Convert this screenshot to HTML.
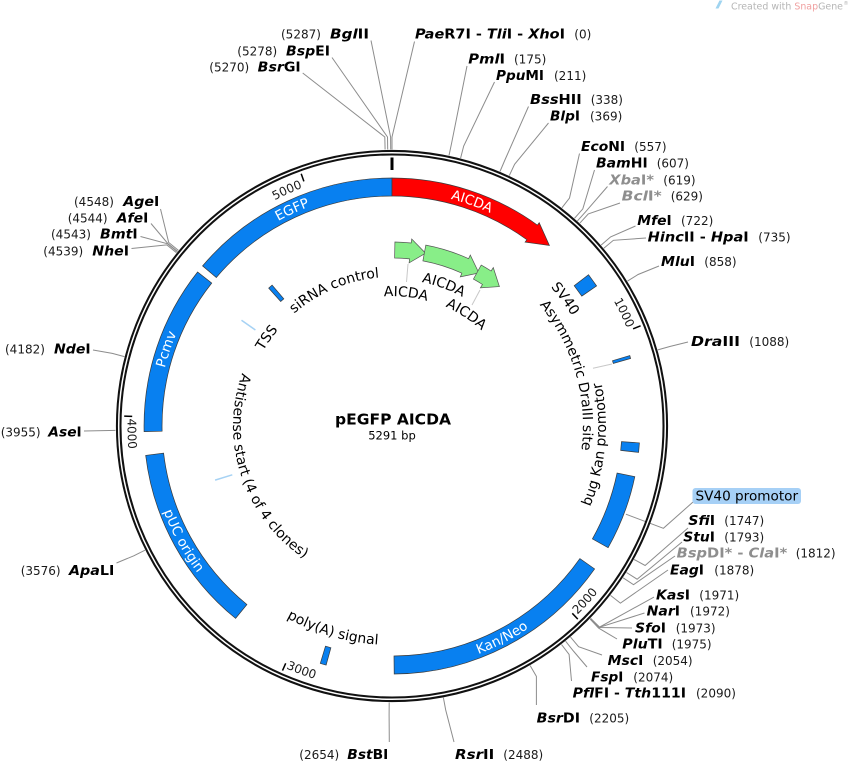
<!DOCTYPE html>
<html><head><meta charset="utf-8"><style>
html,body{margin:0;padding:0;background:#fff;}
svg{display:block;}
.n{font-family:"DejaVu Sans","Liberation Sans",sans-serif;font-size:12px;fill:#1a1a1a;}
.e{font-family:"DejaVu Sans","Liberation Sans",sans-serif;font-size:13.5px;font-weight:bold;fill:#000;}
.g{fill:#8e8e8e;}
.l{font-family:"DejaVu Sans","Liberation Sans",sans-serif;font-size:14px;fill:#000;}
.w{font-family:"DejaVu Sans","Liberation Sans",sans-serif;font-size:13.5px;fill:#fff;}
.c{fill:none;stroke:#8c8c8c;stroke-width:1;}
.f{fill:#0880f0;stroke:#3a3a3a;stroke-width:0.7;}
.ar{fill:#88ee88;stroke:#555;stroke-width:0.7;}
</style></head><body>
<svg width="848" height="763" viewBox="0 0 848 763" xmlns="http://www.w3.org/2000/svg">
<defs>
<path id="pEGFP" d="M158.5,404.7 A234.5,234.5 0 0 1 527.2,234.4"/>
<path id="pAICDA" d="M211.3,276.5 A234.5,234.5 0 0 1 626.5,424.4"/>
<path id="pPcmv" d="M245.1,608.8 A234.5,234.5 0 0 1 387.1,191.6"/>
<path id="pPUC" d="M208.5,265.5 A243.8,243.8 0 0 0 429.3,666.9"/>
<path id="pKan" d="M227.0,605.5 A243.8,243.8 0 0 0 633.8,394.6"/>
<path id="pSi" d="M243.2,433.8 A149,149 0 0 1 501.0,324.4"/>
<path id="pTSS" d="M269.6,511.0 A149,149 0 0 1 431.1,282.2"/>
<path id="pAnti" d="M293.0,301.6 A159,159 0 0 0 387.8,584.9"/>
<path id="pPoly" d="M173.5,440.5 A219,219 0 0 0 568.7,555.3"/>
<path id="pSV" d="M332.8,223.5 A211,211 0 0 1 567.5,543.1"/>
<path id="pAsym" d="M405.0,235.4 A191,191 0 0 1 504.5,580.3"/>
<path id="pBug" d="M446.7,632.9 A214,214 0 0 0 483.1,232.4"/>
<path id="pA1" d="M275.2,369.0 A130,130 0 0 1 518.1,394.6"/>
<path id="pA2" d="M279.6,331.3 A147,147 0 0 1 539.0,426.3"/>
<path id="pA3" d="M314.3,320.6 A131,131 0 0 1 519.3,456.8"/>
<path id="n5" d="M141.4,381.8 A254.5,254.5 0 0 1 302.5,187.8"/>
<path id="n1" d="M436.2,175.4 A254.5,254.5 0 0 1 627.0,328.2"/>
<path id="n4" d="M127.6,418.6 A264.5,264.5 0 0 0 301.5,674.5"/>
<path id="n3" d="M286.1,668.4 A264.5,264.5 0 0 0 562.0,628.6"/>
<path id="n2" d="M577.4,614.7 A264.5,264.5 0 0 0 652.5,380.1"/>
</defs>

<!-- watermark -->
<polygon points="715.5,8.5 719.5,0.5 722.5,0.5 718.5,8.5" fill="#9fd4f0"/>
<text x="731" y="9.5" font-family="DejaVu Sans, sans-serif" font-size="10" fill="#b5b5b5" textLength="112" lengthAdjust="spacingAndGlyphs">Created with <tspan fill="#f0a0a0">Snap</tspan>Gene</text>
<text x="843.5" y="5" font-family="DejaVu Sans, sans-serif" font-size="5" fill="#b5b5b5">®</text>

<!-- connectors -->
<g class="c">
<polyline points="390.7,149.5 390.6,137 371,40.5"/>
<polyline points="387.7,149.5 387.5,137 332,57.5"/>
<polyline points="385.1,149.5 384.8,137 302.7,73"/>
<polyline points="392,149.5 392,137 414.5,41.5"/>
<polyline points="449.0,155.5 451.6,143.2 467,66"/>
<polyline points="460.6,158.1 463.7,146.0 494.5,82"/>
<polyline points="500.0,171.5 504.9,160.0 528.5,106.5"/>
<polyline points="509.3,175.6 514.6,164.3 548.5,123"/>
<polyline points="561.9,207.8 569.5,198.0 579.5,153.5"/>
<polyline points="574.5,218.3 582.8,208.9 594.5,170"/>
<polyline points="577.4,220.9 585.8,211.6 607.5,186.5"/>
<polyline points="579.9,223.1 588.3,213.9 620,203"/>
<polyline points="601.1,245.1 610.6,236.9 635.5,226"/>
<polyline points="603.8,248.3 613.4,240.3 646,238"/>
<polyline points="627.5,281.1 638.1,274.5 659,266"/>
<polyline points="657.8,349.9 669.8,346.5 688,342"/>
<polyline points="625.9,514.2 663.4,528.3 693,502"/>
<polyline points="634.1,559.5 645.1,565.5 688,528"/>
<polyline points="626.5,572.5 637.1,579.2 682,542"/>
<polyline points="623.1,577.8 633.5,584.7 675,556"/>
<polyline points="610.5,595.4 620.4,603.1 668,570"/>
<polyline points="590.6,618.4 599.6,627.1 654,597"/>
<polyline points="590.7,618.5 599.3,627.3 644.5,613"/>
<polyline points="590.1,618.9 599.2,627.5 632,628"/>
<polyline points="590.3,619.3 598.6,628.1 617,639"/>
<polyline points="570.5,637.1 578.6,646.7 602,655"/>
<polyline points="565.6,641.2 573.4,651.0 587,667"/>
<polyline points="561.5,644.5 569.1,654.4 571.5,681"/>
<polyline points="530.1,665.5 536.4,676.4 536.4,705"/>
<polyline points="443.4,697.7 445.7,710 454,742"/>
<polyline points="389.2,702.5 389.1,715 389.3,742"/>
<polyline points="145.0,550.2 133.8,555.8 116.5,563"/>
<polyline points="115.5,430.4 103.0,430.6 84,431"/>
<polyline points="124.4,356.6 112.3,353.4 93,350"/>
<polyline points="176.5,252.7 166.8,244.9 131.5,248.5"/>
<polyline points="177.4,251.7 167.6,243.8 140.5,236.5"/>
<polyline points="177.6,251.5 167.9,243.6 151,223.5"/>
<polyline points="178.4,250.4 168.7,242.5 160.5,209"/>
</g>

<!-- backbone ring -->
<circle cx="392" cy="426" r="273.3" fill="none" stroke="#111" stroke-width="5.6"/>
<circle cx="392" cy="426" r="273.3" fill="none" stroke="#fff" stroke-width="1.5"/>

<!-- ticks -->
<line x1="392" y1="157.5" x2="392" y2="170" stroke="#000" stroke-width="3"/>
<g stroke="#000" stroke-width="1.5">
<line x1="640.6" y1="325.8" x2="633.1" y2="328.8"/>
<line x1="577.8" y1="619.1" x2="572.3" y2="613.3"/>
<line x1="282.5" y1="670.6" x2="285.7" y2="663.3"/>
<line x1="124.2" y1="416.1" x2="132.2" y2="416.4"/>
<line x1="301.2" y1="173.8" x2="303.9" y2="181.4"/>
</g>
<text class="n"><textPath href="#n5" startOffset="100%" text-anchor="end">5000</textPath></text>
<text class="n"><textPath href="#n1" startOffset="100%" text-anchor="end">1000</textPath></text>
<text class="n"><textPath href="#n4" startOffset="0">4000</textPath></text>
<text class="n"><textPath href="#n3" startOffset="0">3000</textPath></text>
<text class="n"><textPath href="#n2" startOffset="0">2000</textPath></text>

<!-- features -->
<path class="f" d="M202.6,265.9 A248,248 0 0 1 392,178 L392,196 A230,230 0 0 0 216.3,277.5 Z"/>
<path d="M392,178 A248,248 0 0 1 537.4,225.1 L539.2,222.7 L549.4,245.5 L525.1,242.1 L526.9,239.7 A230,230 0 0 0 392,196 Z" fill="#ff0000" stroke="#3a3a3a" stroke-width="0.7"/>
<path class="f" d="M144.1,431.6 A248,248 0 0 1 197.6,272.0 L211.7,283.1 A230,230 0 0 0 162.1,431.2 Z"/>
<path class="f" d="M235.6,618.4 A248,248 0 0 1 145.7,455.4 L163.6,453.2 A230,230 0 0 0 246.9,604.5 Z"/>
<path class="f" d="M594.6,568.9 A248,248 0 0 1 394.2,674.0 L394.0,656.0 A230,230 0 0 0 579.9,558.6 Z"/>
<path class="f" d="M634.8,476.7 A248,248 0 0 1 608.1,547.7 L592.4,538.9 A230,230 0 0 0 617.1,473.0 Z"/>
<polygon class="f" points="639.4,442.9 638.6,452.4 620.7,450.4 621.5,441.6"/>
<polygon class="f" points="588.5,274.7 596.6,285.9 581.8,296.1 574.2,285.7"/>
<polygon class="f" points="629.8,355.6 630.6,358.5 613.3,363.4 612.5,360.7"/>
<polygon class="f" points="326.1,665.1 330.9,647.7 325.5,646.2 320.3,663.4"/>
<polygon class="f" points="268.7,288.1 272.1,285.1 283.8,298.8 280.7,301.5"/>
<line x1="241.5" y1="320.2" x2="255.4" y2="330.0" stroke="#a6d2f4" stroke-width="1.5"/>
<line x1="215.1" y1="480.1" x2="232.3" y2="474.8" stroke="#a6d2f4" stroke-width="1.5"/>

<!-- green arrows -->
<path class="ar" d="M394.9,242.0 A184,184 0 0 1 411.2,243.0 L411.7,239.0 L425.6,253.2 L409.1,262.9 L409.6,258.9 A168,168 0 0 0 394.6,258.0 Z"/>
<path class="ar" d="M425.8,245.1 A184,184 0 0 1 468.6,258.7 L470.3,255.1 L478.9,273.0 L460.3,276.9 L461.9,273.2 A168,168 0 0 0 422.9,260.9 Z"/>
<path class="ar" d="M481.2,265.1 A184,184 0 0 1 491.1,271.0 L493.3,267.6 L499.4,286.6 L480.4,287.8 L482.5,284.5 A168,168 0 0 0 473.4,279.1 Z"/>
<g stroke="#c8c8c8" stroke-width="1">
<line x1="408" y1="264" x2="406.5" y2="282"/>
<line x1="480" y1="290" x2="472" y2="305"/>
<line x1="612" y1="364" x2="593" y2="368.3"/>
</g>

<!-- feature band labels -->
<text class="w"><textPath href="#pEGFP" startOffset="50%" text-anchor="middle">EGFP</textPath></text>
<text class="w"><textPath href="#pAICDA" startOffset="50%" text-anchor="middle">AICDA</textPath></text>
<text class="w"><textPath href="#pPcmv" startOffset="50%" text-anchor="middle">Pcmv</textPath></text>
<text class="w"><textPath href="#pPUC" startOffset="50%" text-anchor="middle">pUC origin</textPath></text>
<text class="w"><textPath href="#pKan" startOffset="50%" text-anchor="middle">Kan/Neo</textPath></text>

<!-- inner labels -->
<text class="l"><textPath href="#pSi" startOffset="50%" text-anchor="middle">siRNA control</textPath></text>
<text class="l"><textPath href="#pTSS" startOffset="50%" text-anchor="middle">TSS</textPath></text>
<text class="l"><textPath href="#pAnti" startOffset="50%" text-anchor="middle">Antisense start (4 of 4 clones)</textPath></text>
<text class="l"><textPath href="#pPoly" startOffset="50%" text-anchor="middle">poly(A) signal</textPath></text>
<text class="l"><textPath href="#pSV" startOffset="50%" text-anchor="middle">SV40</textPath></text>
<text class="l"><textPath href="#pAsym" startOffset="50%" text-anchor="middle">Asymmetric DraIII site</textPath></text>
<text class="l"><textPath href="#pBug" startOffset="50%" text-anchor="middle">bug Kan promotor</textPath></text>
<text class="l"><textPath href="#pA1" startOffset="50%" text-anchor="middle">AICDA</textPath></text>
<text class="l"><textPath href="#pA2" startOffset="50%" text-anchor="middle">AICDA</textPath></text>
<text class="l"><textPath href="#pA3" startOffset="50%" text-anchor="middle">AICDA</textPath></text>

<!-- center title -->
<text x="393" y="424.3" text-anchor="middle" font-family="DejaVu Sans, sans-serif" font-size="15.5" font-weight="bold" fill="#000" textLength="116" lengthAdjust="spacingAndGlyphs">pEGFP AICDA</text>
<text x="392" y="439.3" text-anchor="middle" font-family="DejaVu Sans, sans-serif" font-size="11.5" fill="#000">5291 bp</text>

<!-- SV40 promotor highlighted label -->
<rect x="692.5" y="488" width="108.5" height="16" rx="3" ry="3" fill="#a6d0f6"/>
<text x="695.5" y="500.5" font-family="DejaVu Sans, sans-serif" font-size="13.5" fill="#000" textLength="102.6" lengthAdjust="spacingAndGlyphs">SV40 promotor</text>

<!-- enzyme labels: left -->
<text class="n" x="281" y="38.5">(5287)</text>
<text class="e" x="330" y="38.5" textLength="39" lengthAdjust="spacingAndGlyphs"><tspan font-style="italic">Bgl</tspan>II</text>
<text class="n" x="237.3" y="55.5">(5278)</text>
<text class="e" x="286" y="55.5" textLength="44" lengthAdjust="spacingAndGlyphs"><tspan font-style="italic">Bsp</tspan>EI</text>
<text class="n" x="209.3" y="71.7">(5270)</text>
<text class="e" x="257.7" y="71.7" textLength="43" lengthAdjust="spacingAndGlyphs"><tspan font-style="italic">Bsr</tspan>GI</text>
<text class="n" x="74" y="206">(4548)</text>
<text class="e" x="123.3" y="206" textLength="36" lengthAdjust="spacingAndGlyphs"><tspan font-style="italic">Age</tspan>I</text>
<text class="n" x="67.7" y="222.3">(4544)</text>
<text class="e" x="116.7" y="222.3" textLength="31.6" lengthAdjust="spacingAndGlyphs"><tspan font-style="italic">Afe</tspan>I</text>
<text class="n" x="51" y="238.7">(4543)</text>
<text class="e" x="100" y="238.7" textLength="37.7" lengthAdjust="spacingAndGlyphs"><tspan font-style="italic">Bmt</tspan>I</text>
<text class="n" x="43.3" y="255.3">(4539)</text>
<text class="e" x="92.3" y="255.3" textLength="36.7" lengthAdjust="spacingAndGlyphs"><tspan font-style="italic">Nhe</tspan>I</text>
<text class="n" x="5" y="353.3">(4182)</text>
<text class="e" x="54" y="353.3" textLength="36.7" lengthAdjust="spacingAndGlyphs"><tspan font-style="italic">Nde</tspan>I</text>
<text class="n" x="0.7" y="436.7">(3955)</text>
<text class="e" x="48.3" y="436.7" textLength="33.4" lengthAdjust="spacingAndGlyphs"><tspan font-style="italic">Ase</tspan>I</text>
<text class="n" x="20.7" y="575">(3576)</text>
<text class="e" x="69" y="575" textLength="45.3" lengthAdjust="spacingAndGlyphs"><tspan font-style="italic">Apa</tspan>LI</text>
<text class="n" x="299.3" y="759">(2654)</text>
<text class="e" x="347.3" y="759" textLength="41" lengthAdjust="spacingAndGlyphs"><tspan font-style="italic">Bst</tspan>BI</text>

<!-- enzyme labels: right -->
<text class="e" x="415" y="38.5" textLength="150" lengthAdjust="spacingAndGlyphs"><tspan font-style="italic">Pae</tspan>R7I - <tspan font-style="italic">Tli</tspan>I - <tspan font-style="italic">Xho</tspan>I</text>
<text class="n" x="574.3" y="38.5">(0)</text>
<text class="e" x="468.3" y="63.3" textLength="36.7" lengthAdjust="spacingAndGlyphs"><tspan font-style="italic">Pml</tspan>I</text>
<text class="n" x="514" y="63.3">(175)</text>
<text class="e" x="496" y="80" textLength="48" lengthAdjust="spacingAndGlyphs"><tspan font-style="italic">Ppu</tspan>MI</text>
<text class="n" x="554" y="80">(211)</text>
<text class="e" x="530" y="104" textLength="51.7" lengthAdjust="spacingAndGlyphs"><tspan font-style="italic">Bss</tspan>HII</text>
<text class="n" x="590.7" y="104">(338)</text>
<text class="e" x="550" y="120.7" textLength="30" lengthAdjust="spacingAndGlyphs"><tspan font-style="italic">Blp</tspan>I</text>
<text class="n" x="590" y="120.7">(369)</text>
<text class="e" x="581" y="151" textLength="44" lengthAdjust="spacingAndGlyphs"><tspan font-style="italic">Eco</tspan>NI</text>
<text class="n" x="634.3" y="151">(557)</text>
<text class="e" x="596" y="167.7" textLength="51.7" lengthAdjust="spacingAndGlyphs"><tspan font-style="italic">Bam</tspan>HI</text>
<text class="n" x="656.7" y="167.7">(607)</text>
<text class="e g" x="609.3" y="184.3" textLength="44.7" lengthAdjust="spacingAndGlyphs"><tspan font-style="italic">Xba</tspan>I*</text>
<text class="n" x="663.3" y="184.3">(619)</text>
<text class="e g" x="621.7" y="200.7" textLength="40" lengthAdjust="spacingAndGlyphs"><tspan font-style="italic">Bcl</tspan>I*</text>
<text class="n" x="670.7" y="200.7">(629)</text>
<text class="e" x="637.3" y="225" textLength="34.4" lengthAdjust="spacingAndGlyphs"><tspan font-style="italic">Mfe</tspan>I</text>
<text class="n" x="681" y="225">(722)</text>
<text class="e" x="647.7" y="241.7" textLength="101" lengthAdjust="spacingAndGlyphs"><tspan font-style="italic">Hinc</tspan>II - <tspan font-style="italic">Hpa</tspan>I</text>
<text class="n" x="758.3" y="241.7">(735)</text>
<text class="e" x="661" y="266" textLength="34" lengthAdjust="spacingAndGlyphs"><tspan font-style="italic">Mlu</tspan>I</text>
<text class="n" x="704.3" y="266">(858)</text>
<text class="e" x="691" y="346" textLength="49" lengthAdjust="spacingAndGlyphs"><tspan font-style="italic">Dra</tspan>III</text>
<text class="n" x="749.3" y="346">(1088)</text>
<text class="e" x="688.3" y="525" textLength="26.7" lengthAdjust="spacingAndGlyphs"><tspan font-style="italic">Sfi</tspan>I</text>
<text class="n" x="724.3" y="525">(1747)</text>
<text class="e" x="683.3" y="541.7" textLength="31.7" lengthAdjust="spacingAndGlyphs"><tspan font-style="italic">Stu</tspan>I</text>
<text class="n" x="724.3" y="541.7">(1793)</text>
<text class="e g" x="676.7" y="557.7" textLength="110.6" lengthAdjust="spacingAndGlyphs"><tspan font-style="italic">Bsp</tspan>DI* - <tspan font-style="italic">Cla</tspan>I*</text>
<text class="n" x="795.7" y="557.7">(1812)</text>
<text class="e" x="670" y="574.3" textLength="34" lengthAdjust="spacingAndGlyphs"><tspan font-style="italic">Eag</tspan>I</text>
<text class="n" x="714.3" y="574.3">(1878)</text>
<text class="e" x="656" y="599.3" textLength="34" lengthAdjust="spacingAndGlyphs"><tspan font-style="italic">Kas</tspan>I</text>
<text class="n" x="699.3" y="599.3">(1971)</text>
<text class="e" x="646.7" y="615.7" textLength="33.3" lengthAdjust="spacingAndGlyphs"><tspan font-style="italic">Nar</tspan>I</text>
<text class="n" x="690" y="615.7">(1972)</text>
<text class="e" x="635" y="632.3" textLength="31" lengthAdjust="spacingAndGlyphs"><tspan font-style="italic">Sfo</tspan>I</text>
<text class="n" x="675.7" y="632.3">(1973)</text>
<text class="e" x="622.3" y="648.3" textLength="40.4" lengthAdjust="spacingAndGlyphs"><tspan font-style="italic">Plu</tspan>TI</text>
<text class="n" x="671.7" y="648.3">(1975)</text>
<text class="e" x="607.7" y="665" textLength="35.6" lengthAdjust="spacingAndGlyphs"><tspan font-style="italic">Msc</tspan>I</text>
<text class="n" x="652.7" y="665">(2054)</text>
<text class="e" x="591" y="681.7" textLength="32.3" lengthAdjust="spacingAndGlyphs"><tspan font-style="italic">Fsp</tspan>I</text>
<text class="n" x="633.3" y="681.7">(2074)</text>
<text class="e" x="572.7" y="697.7" textLength="113.3" lengthAdjust="spacingAndGlyphs"><tspan font-style="italic">Pfl</tspan>FI - <tspan font-style="italic">Tth</tspan>111I</text>
<text class="n" x="696" y="697.7">(2090)</text>
<text class="e" x="536.7" y="722.5" textLength="43.3" lengthAdjust="spacingAndGlyphs"><tspan font-style="italic">Bsr</tspan>DI</text>
<text class="n" x="589.3" y="722.5">(2205)</text>
<text class="e" x="455" y="759" textLength="39.3" lengthAdjust="spacingAndGlyphs"><tspan font-style="italic">Rsr</tspan>II</text>
<text class="n" x="503.3" y="759">(2488)</text>
</svg>
</body></html>
